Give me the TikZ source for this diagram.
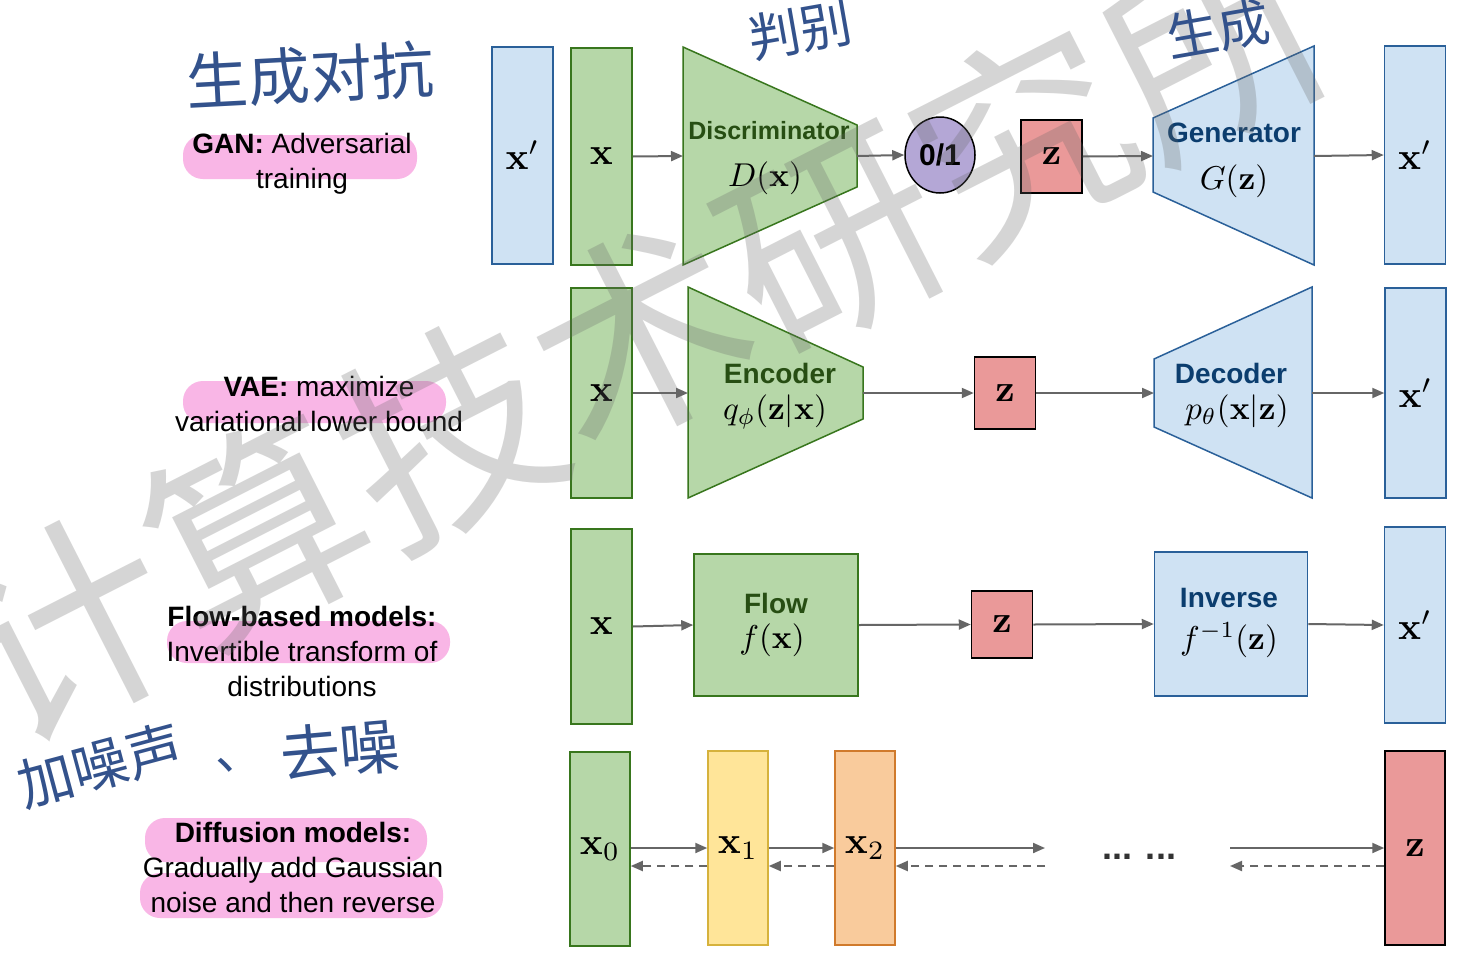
\documentclass[tikz,border=0pt]{standalone}
\usepackage{graphicx}
\usepackage[no-math]{fontspec}
\setmainfont{Liberation Sans}
\newfontfamily\cjk{Noto Sans CJK SC}
\usetikzlibrary{arrows.meta,shapes.geometric}
\definecolor{grfill}{HTML}{B6D7A8}
\definecolor{grline}{HTML}{38761D}
\definecolor{grtext}{HTML}{274E13}
\definecolor{blfill}{HTML}{CFE2F3}
\definecolor{blline}{HTML}{2A6099}
\definecolor{bltext}{HTML}{0B3D6E}
\definecolor{rdfill}{HTML}{EA9999}
\definecolor{ylfill}{HTML}{FFE599}
\definecolor{ylline}{HTML}{D6B23C}
\definecolor{orfill}{HTML}{F9CB9C}
\definecolor{orline}{HTML}{D07A2C}
\definecolor{ppfill}{HTML}{B4A7D6}
\definecolor{arrgray}{HTML}{666666}
\definecolor{hlpink}{HTML}{F9B6E6}
\definecolor{ink}{HTML}{33528C}
\newcommand\M[1]{\scalebox{3.3}{$#1$}}
\newcommand\B[1]{\scalebox{3.8}{$#1$}}
\newcommand\lab{\fontsize{28}{32}\selectfont\bfseries}
\newcommand\side{\fontsize{28}{35}\selectfont}
\tikzset{
  box/.style={draw, line width=1.5pt, minimum width=61pt, inner sep=0pt},
  gbox/.style={box, fill=grfill, draw=grline},
  bbox/.style={box, fill=blfill, draw=blline},
  rbox/.style={box, fill=rdfill, draw=black},
  trap/.style={line width=1.5pt},
  arr/.style={draw=arrgray, line width=2pt, -{Triangle[length=12pt,width=10pt]}},
  darr/.style={arr, dash pattern=on 8pt off 6pt},
  hl/.style={fill=hlpink, rounded corners=20pt, draw=none},
  sidetext/.style={align=center, font=\side, inner sep=0pt},
  glab/.style={font=\lab, text=grtext, inner sep=0pt},
  blab/.style={font=\lab, text=bltext, inner sep=0pt},
  mlab/.style={inner sep=0pt},
  hand/.style={text=ink, inner sep=0pt},
}
\begin{document}
\begin{tikzpicture}[x=1pt,y=-1pt]
\useasboundingbox (0,0) rectangle (1483,972);
\fill[white] (0,0) rectangle (1483,972);

% ---------- left descriptions ----------
\fill[hl] (183,135) rectangle (417,179);
\fill[hl] (183,381) rectangle (446,423);
\fill[hl] (167,621) rectangle (450,663);
\fill[hl] (145,818) rectangle (427,862);
\fill[hl] (140,873) rectangle (443,918);
\node[sidetext] (tgan) at (302,164) {\textbf{GAN:} Adversarial\\training};
\node[sidetext] (tvae) at (319,404) {\textbf{VAE:} maximize\\variational lower bound};
\node[sidetext] (tflow) at (302,651) {\textbf{Flow-based models:}\\Invertible transform of\\distributions};
\node[sidetext] (tdiff) at (293,867) {\textbf{Diffusion models:}\\Gradually add Gaussian\\noise and then reverse};

% ---------- GAN row ----------
\node[bbox, minimum height=217pt] (gxp) at (522.5,155.5) {\B{\mathbf{x}'}};
\node[gbox, minimum height=217pt] (gx) at (601.5,156.5) {\B{\mathbf{x}}};
\fill[grfill, draw=grline, trap] (683,47) -- (857,125) -- (857,187) -- (683,265) -- cycle;
\coordinate (Dl) at (683,156);
\coordinate (Dr) at (857,156);
\node[glab, font=\fontsize{25}{30}\selectfont\bfseries] (dlab) at (769,131) {Discriminator};
\node[mlab] (dmath) at (765,178) {\M{D(\mathbf{x})}};
\node[draw=black, line width=1.5pt, fill=ppfill, ellipse, minimum width=70pt, minimum height=76pt, inner sep=0pt, font=\fontsize{30}{32}\selectfont\bfseries] (out) at (940,155) {0/1};
\node[rbox, minimum height=73pt] (gz) at (1051.5,156.5) {\B{\mathbf{z}}};
\fill[blfill, draw=blline, trap] (1153,118) -- (1314,46) -- (1314,265) -- (1153,192) -- cycle;
\coordinate (Gl) at (1153,156);
\coordinate (Gr) at (1314,156);
\node[blab] (genlab) at (1234,133) {Generator};
\node[mlab] (gmath) at (1234,181) {\M{G(\mathbf{z})}};
\node[bbox, minimum height=218pt] (gxp2) at (1415,155) {\B{\mathbf{x}'}};
\draw[arr] (gx.east) -- (Dl);
\draw[arr] (Dr) -- (out.west);
\draw[arr] (gz.east) -- (Gl);
\draw[arr] (Gr) -- (gxp2.west);

% ---------- VAE row ----------
\node[gbox, minimum height=210pt] (vx) at (601.5,393) {\B{\mathbf{x}}};
\fill[grfill, draw=grline, trap] (688,287) -- (863,367) -- (863,419) -- (688,498) -- cycle;
\coordinate (El) at (688,393);
\coordinate (Er) at (863,393);
\node[glab] (enclab) at (780,373) {Encoder};
\node[mlab] (encmath) at (775,412) {\M{q_\phi(\mathbf{z}|\mathbf{x})}};
\node[rbox, minimum height=72pt] (vz) at (1005,393) {\B{\mathbf{z}}};
\fill[blfill, draw=blline, trap] (1154,359) -- (1312,287) -- (1312,498) -- (1154,427) -- cycle;
\coordinate (Decl) at (1154,393);
\coordinate (Decr) at (1312,393);
\node[blab] (declab) at (1231,373) {Decoder};
\node[mlab] (decmath) at (1237,411) {\M{p_\theta(\mathbf{x}|\mathbf{z})}};
\node[bbox, minimum height=210pt] (vxp) at (1415.5,393) {\B{\mathbf{x}'}};
\draw[arr] (vx.east) -- (El);
\draw[arr] (Er) -- (vz.west);
\draw[arr] (vz.east) -- (Decl);
\draw[arr] (Decr) -- (vxp.west);

% ---------- Flow row ----------
\node[gbox, minimum height=195pt] (fx) at (601.5,626.5) {\B{\mathbf{x}}};
\node[gbox, minimum width=164pt, minimum height=142pt] (flow) at (776,625) {};
\node[glab] (flowlab) at (776,603) {Flow};
\node[mlab] (flowmath) at (772,640) {\M{f(\mathbf{x})}};
\node[rbox, minimum height=67pt] (fz) at (1002,624.5) {\B{\mathbf{z}}};
\node[bbox, minimum width=153pt, minimum height=144pt] (inv) at (1231,624) {};
\node[blab] (invlab) at (1229,598) {Inverse};
\node[mlab] (invmath) at (1229,640) {\M{f^{-1}(\mathbf{z})}};
\node[bbox, minimum height=196pt] (fxp) at (1415,625) {\B{\mathbf{x}'}};
\draw[arr] (fx.east) -- (flow.west);
\draw[arr] (flow.east) -- (fz.west);
\draw[arr] (fz.east) -- (inv.west);
\draw[arr] (inv.east) -- (fxp.west);

% ---------- Diffusion row ----------
\node[gbox, minimum width=60pt, minimum height=194pt] (d0) at (600,849) {\B{\mathbf{x}_0}};
\node[box, fill=ylfill, draw=ylline, minimum width=60pt, minimum height=194pt] (d1) at (738,848) {\B{\mathbf{x}_1}};
\node[box, fill=orfill, draw=orline, minimum width=60pt, minimum height=194pt] (d2) at (865,848) {\B{\mathbf{x}_2}};
\node[rbox, minimum width=60pt, minimum height=194pt] (dz) at (1415,848) {\B{\mathbf{z}}};
\coordinate (fwdA) at (1045,848);
\coordinate (fwdB) at (1230,848);
\coordinate (bwdA) at (1045,866);
\coordinate (bwdB) at (1230,866);
\node[font=\fontsize{36}{40}\selectfont\bfseries, text=black!80, inner sep=0pt] (dots) at (1139,857) {...\hspace{14pt}...};
\draw[arr] ([yshift=1pt]d0.east) -- (d1.west);
\draw[arr] (d1.east) -- (d2.west);
\draw[arr] (d2.east) -- (fwdA);
\draw[arr] (fwdB) -- (dz.west);
\draw[darr] ([yshift=-18pt]d1.west) -- ([yshift=-17pt]d0.east);
\draw[darr] ([yshift=-18pt]d2.west) -- ([yshift=-18pt]d1.east);
\draw[darr] (bwdA) -- ([yshift=-18pt]d2.east);
\draw[darr] ([yshift=-18pt]dz.west) -- (bwdB);

% ---------- watermark ----------
\node[text=black!60, text opacity=0.27, rotate=27, inner sep=0pt, font=\cjk\fontsize{215}{215}\selectfont] (wm) at (640,335) {计算技术研究所};

% ---------- handwritten notes ----------
\node[hand, rotate=3, font=\cjk\fontsize{62}{62}\selectfont] (h1) at (310,75) {生成对抗};
\node[hand, rotate=10, font=\cjk\fontsize{52}{52}\selectfont] (h2) at (800,30) {判别};
\node[hand, rotate=10, font=\cjk\fontsize{52}{52}\selectfont] (h3) at (1218,29) {生成};
\node[hand, rotate=15, font=\cjk\fontsize{56}{56}\selectfont] (h4) at (100,765) {加噪声};
\node[hand, font=\cjk\fontsize{50}{50}\selectfont] (h5) at (240,765) {、};
\node[hand, rotate=5, font=\cjk\fontsize{60}{60}\selectfont] (h6) at (340,750) {去噪};
\end{tikzpicture}
\end{document}
